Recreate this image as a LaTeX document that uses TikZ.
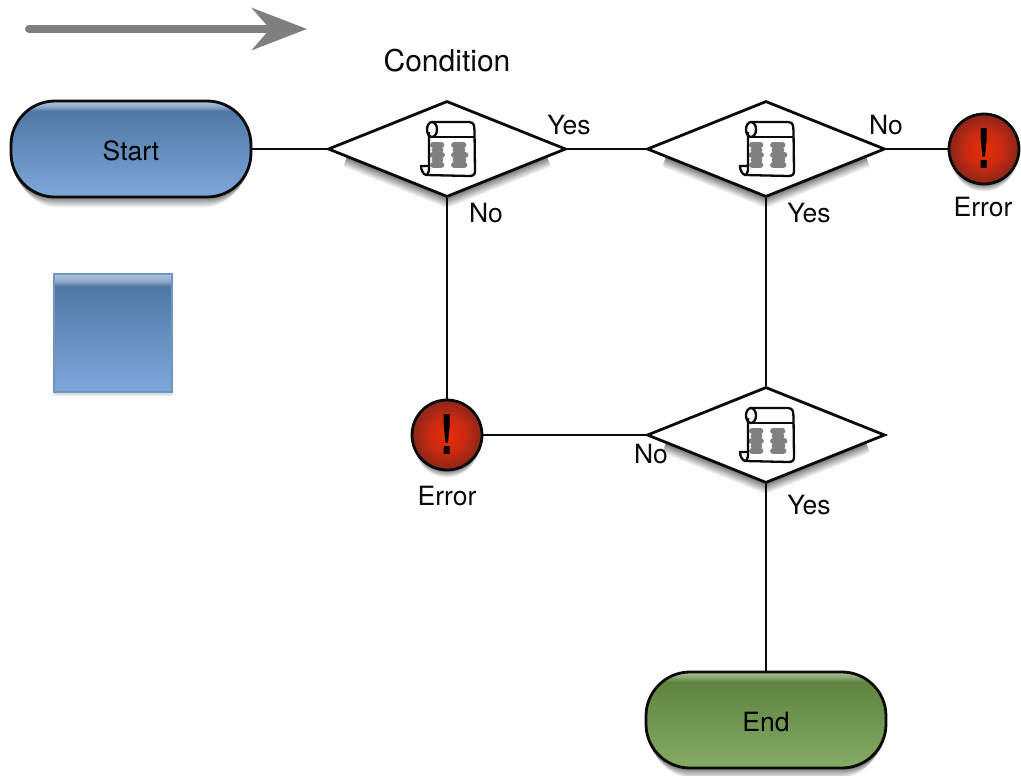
\documentclass[tikz,border=0pt]{standalone}
\usepackage{fontspec}
\setmainfont{TeX Gyre Heros}
\usetikzlibrary{shapes.geometric,arrows.meta}
\definecolor{linecol}{HTML}{0A0A0A}
\definecolor{iconcol}{HTML}{808080}
\definecolor{arrowcol}{HTML}{7F7F7F}
\definecolor{bluea}{HTML}{7FA7DC}
\definecolor{blueb}{HTML}{4F78A5}
\definecolor{bluec}{HTML}{8FA9C9}
\definecolor{blued}{HTML}{AEC3DE}
\definecolor{blueedge}{HTML}{6F95C0}
\definecolor{greena}{HTML}{84AC64}
\definecolor{greenb}{HTML}{5F8440}
\definecolor{greenc}{HTML}{84A268}
\definecolor{greend}{HTML}{AAC598}
\definecolor{reda}{HTML}{EC2E05}
\definecolor{redb}{HTML}{C92A10}
\definecolor{redc}{HTML}{8A2619}
\pgfdeclareverticalshading{bluefill}{100bp}{
  color(0bp)=(bluea);color(25bp)=(bluea);color(69.8bp)=(blueb);
  color(72bp)=(bluec);color(75bp)=(blued);color(100bp)=(blued)}
\pgfdeclareverticalshading{greenfill}{100bp}{
  color(0bp)=(greena);color(25bp)=(greena);color(69.8bp)=(greenb);
  color(72bp)=(greenc);color(75bp)=(greend);color(100bp)=(greend)}
\pgfdeclareradialshading{redfill}{\pgfpoint{0bp}{0bp}}{
  color(0bp)=(reda);color(13bp)=(redb);color(25bp)=(redc);color(50bp)=(redc)}
\tikzset{
  wire/.style={draw=linecol,line width=2.6pt},
  terminal/.style={rectangle,rounded corners=44pt,minimum width=240pt,minimum height=96pt,inner sep=0pt,
    draw=linecol,line width=2.8pt,font=\fontsize{26.5}{26.5}\selectfont,text height=22pt,text depth=0pt},
  decision/.style={diamond,aspect=2.5,minimum width=238pt,minimum height=96pt,inner sep=0pt,
    draw=linecol,line width=2.8pt,fill=white},
  errorball/.style={circle,minimum size=70pt,inner sep=0pt,shading=redfill,draw=linecol,line width=2.8pt,
    font=\bfseries\fontsize{50}{50}\selectfont},
  lab/.style={anchor=base,inner sep=0pt,text=linecol,font=\fontsize{26.5}{26.5}\selectfont},
  scroll/.pic={
    \draw[iconcol,line width=6.8pt,line cap=round]
      (-13.5,-4)--(-6,-4) (-12,1)--(-7,1) (-14,6)--(-5.5,6) (-12,11)--(-7,11) (-13.5,16)--(-6,16)
      (7.5,-4)--(16,-4) (9,1)--(15,1) (7.5,6)--(18,6) (9,11)--(16,11) (7.5,16)--(17,16);
    \draw[linecol,line width=2.3pt,line join=round]
      (-15,-27)--(22,-27) .. controls (28,-27) and (27,-22) .. (27.5,-18) -- (28,22)
      .. controls (28,26) and (26,27) .. (22,27) -- (-21,26)
      .. controls (-24,25) and (-26,21) .. (-26,17) -- (-18,17) -- (-18,-17);
    \draw[linecol,line width=2.3pt] (-20,26) .. controls (-18,24) and (-18,21) .. (-18,17);
    \draw[linecol,line width=2.3pt] (-15,-19.5) ellipse [x radius=5,y radius=7.5];
    \draw[linecol,line width=2.3pt] (-15,-12)--(27.5,-12);
  }
}
\newcommand{\bang}{\scalebox{0.8}[1.1]{!}}
\newcommand{\dglow}[2]{%
  \foreach \i in {10,9,...,1}{%
    \pgfmathtruncatemacro{\k}{5*(11-\i)}%
    \draw[black!\k!white,line width=2*\i pt,line join=round]
      ({#1-100},{#2+8.5}) -- ({#1},{#2+48.5}) -- ({#1+100},{#2+8.5});}}
\newcommand{\tglow}[2]{%
  \foreach \i in {10,9,...,1}{%
    \pgfmathtruncatemacro{\k}{5*(11-\i)}%
    \fill[black!\k!white,rounded corners=42pt] ({#1-121+.7*\i},{#2-30}) rectangle ({#1+121-.7*\i},{#2+48+1.05*\i});}}
\newcommand{\bglow}[2]{%
  \foreach \i in {10,9,...,1}{%
    \pgfmathtruncatemacro{\k}{5*(11-\i)}%
    \fill[black!\k!white] ({#1},{#2+1.1*\i}) circle [radius={35.5-.4*\i}];}}
\begin{document}
\begin{tikzpicture}[x=1pt,y=-1pt]
\useasboundingbox (0,0) rectangle (1021,776);
% direction arrow
\coordinate (arrowa) at (29,29);
\coordinate (arrowb) at (307,29);
\draw[arrowcol,line width=8pt,line cap=round,-{Stealth[length=55pt,width=42pt,inset=18pt]}] (arrowa) -- (arrowb);
% soft shadows
\tglow{131}{149}
\tglow{766}{720}
\dglow{447}{149}
\dglow{766}{149}
\dglow{766}{435}
\bglow{984}{149}
\bglow{447}{435}
\fill[black!8!white] (53,280) rectangle (173,396);
\fill[black!14!white] (55,280) rectangle (171,394.5);
% nodes
\node[terminal,shading=bluefill] (start) at (131,149) {Start};
\node[terminal,shading=greenfill] (finish) at (766,720) {End};
\node[decision] (d1) at (447,149) {};
\node[decision] (d2) at (766,149) {};
\node[decision] (d3) at (766,435) {};
\node[errorball] (err1) at (984,149) {\bang};
\node[errorball] (err2) at (447,435) {\bang};
\node[rectangle,minimum size=118pt,inner sep=0pt,shading=bluefill,draw=blueedge,line width=2.5pt] (legend) at (113,333) {};
% connectors
\draw[wire] (start.east) -- (d1.west);
\draw[wire] (d1.east) -- (d2.west);
\draw[wire] (d2.east) -- (err1.west);
\draw[wire] (d1.south) -- (err2.north);
\draw[wire] (d2.south) -- (d3.north);
\draw[wire] (err2.east) -- (d3.west);
\draw[wire] (d3.south) -- (finish.north);
% icons
\pic at (d1) {scroll};
\pic at (d2) {scroll};
\pic at (d3) {scroll};
% labels
\node[lab,font=\fontsize{30}{30}\selectfont] (lcond) at (447,72) {Condition};
\node[lab] (l1) at (569,135) {Yes};
\node[lab] (l2) at (886,135) {No};
\node[lab] (l3) at (486,222) {No};
\node[lab] (l4) at (809,222) {Yes};
\node[lab] (l5) at (983,216) {Error};
\node[lab] (l6) at (651,463) {No};
\node[lab] (l7) at (447,505) {Error};
\node[lab] (l8) at (809,514) {Yes};
\end{tikzpicture}
\end{document}
